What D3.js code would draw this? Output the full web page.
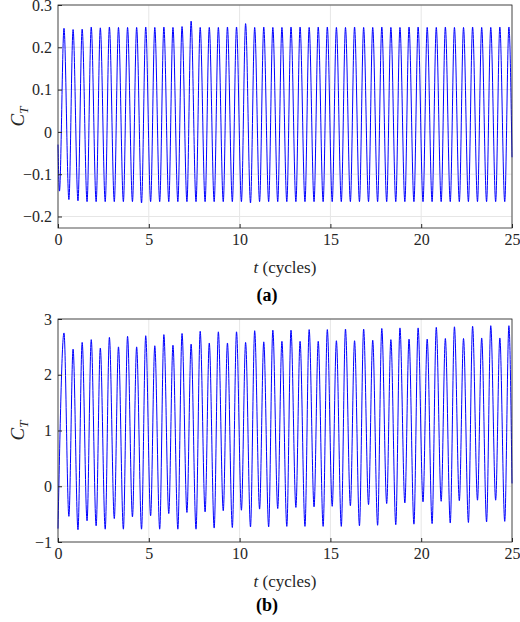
<!DOCTYPE html>
<html><head><meta charset="utf-8">
<script src="https://cdn.jsdelivr.net/npm/d3@7"></script>
<style>body{margin:0;background:#fff}</style>
</head><body><svg id="c" width="520" height="622" font-family="Liberation Serif, Times New Roman, DejaVu Serif, serif"></svg>
<script>
const peakTimes = [0.33,0.83,1.33,1.83,2.33,2.83,3.33,3.83,4.33,4.83,5.33,5.83,6.33,6.83,7.33,7.83,8.33,8.83,9.33,9.83,10.33,10.83,11.33,11.83,12.33,12.83,13.33,13.83,14.33,14.83,15.33,15.83,16.33,16.83,17.33,17.83,18.33,18.83,19.33,19.83,20.33,20.83,21.33,21.83,22.33,22.83,23.33,23.83,24.33,24.83];
const troughTimes = [0.6,1.1,1.6,2.1,2.6,3.1,3.6,4.1,4.6,5.1,5.6,6.1,6.6,7.1,7.6,8.1,8.6,9.1,9.6,10.1,10.6,11.1,11.6,12.1,12.6,13.1,13.6,14.1,14.6,15.1,15.6,16.1,16.6,17.1,17.6,18.1,18.6,19.1,19.6,20.1,20.6,21.1,21.6,22.1,22.6,23.1,23.6,24.1,24.6];
const peaksA = [0.245,0.242,0.243,0.248,0.246,0.248,0.247,0.247,0.247,0.248,0.247,0.248,0.247,0.249,0.262,0.247,0.247,0.247,0.248,0.248,0.256,0.247,0.248,0.247,0.247,0.248,0.248,0.247,0.248,0.248,0.247,0.247,0.248,0.247,0.247,0.248,0.247,0.247,0.248,0.248,0.247,0.247,0.248,0.247,0.247,0.248,0.247,0.247,0.248,0.248];
const troughsA = [-0.160,-0.163,-0.165,-0.165,-0.165,-0.165,-0.165,-0.165,-0.168,-0.165,-0.165,-0.165,-0.165,-0.165,-0.165,-0.165,-0.165,-0.165,-0.165,-0.165,-0.168,-0.165,-0.165,-0.165,-0.165,-0.165,-0.165,-0.165,-0.165,-0.165,-0.165,-0.165,-0.165,-0.165,-0.165,-0.165,-0.165,-0.165,-0.165,-0.165,-0.165,-0.165,-0.165,-0.165,-0.165,-0.165,-0.165,-0.165,-0.165];
const startA = [[0,-0.03],[0.08,-0.14]];
const endA = [25,-0.06];
const peaksB = [2.75,2.46,2.58,2.63,2.48,2.67,2.50,2.69,2.50,2.70,2.52,2.72,2.53,2.74,2.55,2.78,2.57,2.77,2.57,2.77,2.58,2.79,2.59,2.80,2.60,2.80,2.60,2.81,2.60,2.81,2.61,2.82,2.61,2.82,2.62,2.83,2.63,2.84,2.64,2.84,2.64,2.85,2.65,2.86,2.65,2.87,2.66,2.88,2.66,2.88];
const troughsB = [-0.54,-0.78,-0.62,-0.71,-0.77,-0.58,-0.77,-0.55,-0.77,-0.53,-0.77,-0.49,-0.77,-0.47,-0.77,-0.46,-0.75,-0.44,-0.74,-0.43,-0.73,-0.41,-0.73,-0.40,-0.72,-0.38,-0.72,-0.37,-0.72,-0.36,-0.72,-0.35,-0.71,-0.33,-0.70,-0.31,-0.69,-0.30,-0.68,-0.28,-0.67,-0.27,-0.66,-0.26,-0.65,-0.25,-0.64,-0.25,-0.63];
const startB = [[0,-0.76]];
const endB = [25,0.05];
const xTicks = [0,5,10,15,20,25];
const yTicksA = [-0.2,-0.1,0,0.1,0.2,0.3];
const yTicksB = [-1,0,1,2,3];
const FONT = "Liberation Serif, Times New Roman, DejaVu Serif, serif";

const svg = d3.select("#c");
function series(start, peaks, troughs, end){
  const pts = start.slice();
  peaks.forEach((p,i)=>{pts.push([peakTimes[i],p]); if(i<troughs.length) pts.push([troughTimes[i],troughs[i]]);});
  pts.push(end);
  return pts;
}
function panel(top, bottom, yDom, yTicks, data, label, labelY){
  const x = d3.scaleLinear().domain([0,25]).range([58,512]);
  const y = d3.scaleLinear().domain(yDom).range([bottom,top]);
  const g = svg.append("g");
  g.append("g").selectAll("line").data(xTicks).join("line")
    .attr("x1",d=>x(d)).attr("x2",d=>x(d)).attr("y1",top).attr("y2",bottom).attr("stroke","#e6e6e6");
  g.append("g").selectAll("line").data(yTicks).join("line")
    .attr("x1",58).attr("x2",512).attr("y1",d=>y(d)).attr("y2",d=>y(d)).attr("stroke","#e6e6e6");
  g.append("path").datum(data).attr("fill","none").attr("stroke","#0000ff").attr("stroke-width",1)
    .attr("d",d3.line().x(d=>x(d[0])).y(d=>y(d[1])).curve(d3.curveMonotoneX));
  g.append("rect").attr("x",58).attr("y",top).attr("width",454).attr("height",bottom-top).attr("fill","none").attr("stroke","#262626").attr("stroke-width",0.8);
  const ax = g.append("g").attr("transform",`translate(0,${bottom})`).call(d3.axisBottom(x).tickValues(xTicks).tickSize(-4).tickPadding(6));
  const ay = g.append("g").attr("transform",`translate(58,0)`).call(d3.axisLeft(y).tickValues(yTicks).tickFormat(d=>String(+d.toFixed(2)).replace("-","\u2212")).tickSize(-4).tickPadding(6));
  [ax,ay].forEach(a=>{a.attr("font-family",FONT).attr("font-size",16);a.select(".domain").remove();a.selectAll("line").attr("stroke","#262626");a.selectAll("text").attr("fill","#262626");});
  const tl = g.append("text").attr("x",285).attr("y",bottom+45).attr("text-anchor","middle").attr("font-size",17).attr("fill","#262626");
  tl.append("tspan").attr("font-style","italic").text("t");
  tl.append("tspan").text(" (cycles)");
  const yl = g.append("text").attr("transform",`translate(24,${(top+bottom)/2}) rotate(-90)`).attr("text-anchor","middle").attr("font-size",19).attr("fill","#262626");
  yl.append("tspan").attr("font-style","italic").text("C");
  yl.append("tspan").attr("font-style","italic").attr("font-size",13).attr("dy",4).text("T");
  g.append("text").attr("x",267).attr("y",labelY).attr("text-anchor","middle").attr("font-size",18).attr("font-weight","bold").text(label);
}
panel(5,228,[-0.2272,0.3],yTicksA,series(startA,peaksA,troughsA,endA),"(a)",301);
panel(319,542,[-1,3],yTicksB,series(startB,peaksB,troughsB,endB),"(b)",611);
</script></body></html>
